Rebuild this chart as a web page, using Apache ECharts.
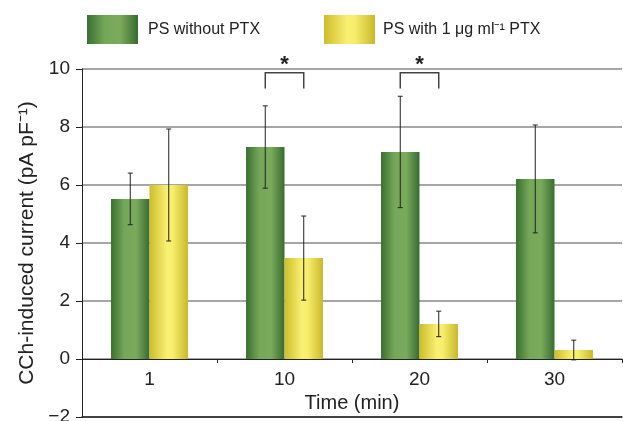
<!DOCTYPE html>
<html>
<head>
<meta charset="utf-8">
<script src="https://cdn.jsdelivr.net/npm/echarts@6/dist/echarts.min.js"></script>
<style>
  html, body { margin: 0; padding: 0; background: #fff; }
  #chart { width: 623px; height: 421px; }
</style>
</head>
<body>
<div id="chart"></div>
<script>
// data
const categories = ["1", "10", "20", "30"];
const withoutPtx = [5.52, 7.31, 7.14, 6.21];
const withoutPtxErr = [0.89, 1.42, 1.92, 1.86];
const withPtx = [6.0, 3.48, 1.21, 0.31];
const withPtxErr = [1.93, 1.45, 0.44, 0.34];
// significance brackets: category index, bracket top, leg bottom
const sigCats = [1, 2];
const sigTop = 9.87;
const sigLeg = 9.33;

const FONT = "Liberation Sans, Arial, sans-serif";
const BAR_FRAC = 0.285; // bar width as part of category band

const greenGrad = new echarts.graphic.LinearGradient(0, 0, 1, 0, [
  { offset: 0, color: "#3a6f30" },
  { offset: 0.35, color: "#76a759" },
  { offset: 0.65, color: "#7aab5c" },
  { offset: 1, color: "#386b31" },
]);
const yellowGrad = new echarts.graphic.LinearGradient(0, 0, 1, 0, [
  { offset: 0, color: "#cdbd2a" },
  { offset: 0.45, color: "#f9ef72" },
  { offset: 0.6, color: "#f8ee6c" },
  { offset: 1, color: "#c9b82b" },
]);

// error bar renderer; side -1 for left bar, +1 for right bar
const errRender = (side) => (params, api) => {
  const idx = api.value(0);
  const mid = api.value(1);
  const err = api.value(2);
  const band = api.size([1, 0])[0];
  const off = side * band * BAR_FRAC / 2;
  const c = api.coord([idx, mid]);
  const hi = api.coord([idx, mid + err]);
  const lo = api.coord([idx, mid - err]);
  const x = c[0] + off;
  const cap = 2.5;
  const style = { stroke: "#222", lineWidth: 1 };
  return {
    type: "group",
    children: [
      { type: "line", shape: { x1: x, y1: hi[1], x2: x, y2: lo[1] }, style },
      { type: "line", shape: { x1: x - cap, y1: hi[1], x2: x + cap, y2: hi[1] }, style },
      { type: "line", shape: { x1: x - cap, y1: lo[1], x2: x + cap, y2: lo[1] }, style },
    ],
  };
};

const chart = echarts.init(document.getElementById("chart"), null, { renderer: "canvas" });

const legendText = { fontSize: 16, color: "#222", fontFamily: FONT };

const option = {
  animation: false,
  textStyle: { fontFamily: FONT },
  legend: [
    {
      data: ["PS without PTX"],
      left: 87, top: 15, padding: 0,
      icon: "rect",
      itemWidth: 51, itemHeight: 29,
      textStyle: Object.assign({ padding: [0, 0, 0, 5] }, legendText),
    },
    {
      data: ["PS with 1 μg ml⁻¹ PTX"],
      left: 324, top: 15, padding: 0,
      icon: "rect",
      itemWidth: 51, itemHeight: 29,
      textStyle: Object.assign({ padding: [0, 0, 0, 3] }, legendText),
    },
  ],
  grid: { left: 82, right: 1, top: 69, bottom: 4, outerBoundsMode: "none", containLabel: false },
  xAxis: [
    {
      // axis drawn along y = 0 (two y-steps above the bottom)
      type: "category",
      data: categories,
      position: "bottom",
      offset: -58,
      name: "Time (min)",
      nameLocation: "middle",
      nameGap: 34,
      nameTextStyle: { fontSize: 20, color: "#222", fontFamily: FONT },
      axisLine: { onZero: false, lineStyle: { color: "#222", width: 1 } },
      axisTick: { show: true, length: 4, lineStyle: { color: "#222" } },
      axisLabel: { fontSize: 19, color: "#222", margin: 11, fontFamily: FONT },
      splitLine: { show: false },
    },
    {
      type: "category",
      data: categories,
      position: "bottom",
      axisLine: { onZero: false, lineStyle: { color: "#222", width: 1.5 } },
      axisTick: { show: false },
      axisLabel: { show: false },
    },
  ],
  yAxis: {
    type: "value",
    min: -2, max: 10, interval: 2,
    name: "CCh-induced current (pA pF⁻¹)",
    nameLocation: "middle",
    nameGap: 40,
    nameTextStyle: { fontSize: 21, color: "#222", fontFamily: FONT },
    axisLine: { show: true, lineStyle: { color: "#222", width: 1 } },
    axisTick: { show: true, length: 6, lineStyle: { color: "#222" } },
    axisLabel: {
      fontSize: 19, color: "#222", margin: 12, fontFamily: FONT,
      formatter: (v) => String(v).replace("-", "\u2212"),
    },
    splitLine: { show: true, lineStyle: { color: "#888", width: 1.5 } },
  },
  series: [
    {
      name: "PS without PTX",
      type: "bar",
      data: withoutPtx,
      barGap: "0%",
      barCategoryGap: "43%",
      itemStyle: { color: greenGrad },
    },
    {
      name: "PS with 1 μg ml⁻¹ PTX",
      type: "bar",
      data: withPtx,
      itemStyle: { color: yellowGrad },
    },
    {
      type: "custom",
      z: 5,
      renderItem: errRender(-1),
      data: withoutPtx.map((v, i) => [i, v, withoutPtxErr[i]]),
      silent: true,
    },
    {
      type: "custom",
      z: 5,
      renderItem: errRender(1),
      data: withPtx.map((v, i) => [i, v, withPtxErr[i]]),
      silent: true,
    },
    {
      type: "custom",
      z: 5,
      silent: true,
      data: sigCats.map((c) => [c, sigTop, sigLeg]),
      renderItem: (params, api) => {
        const idx = api.value(0);
        const top = api.coord([idx, api.value(1)]);
        const leg = api.coord([idx, api.value(2)]);
        const half = api.size([1, 0])[0] * BAR_FRAC / 2;
        const x1 = top[0] - half;
        const x2 = top[0] + half;
        return {
          type: "group",
          children: [
            {
              type: "polyline",
              shape: { points: [[x1, leg[1]], [x1, top[1]], [x2, top[1]], [x2, leg[1]]] },
              style: { stroke: "#444", lineWidth: 1.5, fill: null },
            },
            {
              type: "text",
              style: {
                text: "*", x: top[0], y: top[1] + 3,
                align: "center", verticalAlign: "bottom",
                font: "bold 22px " + FONT, fill: "#222",
              },
            },
          ],
        };
      },
    },
  ],
};

chart.setOption(option);
window.addEventListener("resize", chart.resize);
</script>
</body>
</html>
